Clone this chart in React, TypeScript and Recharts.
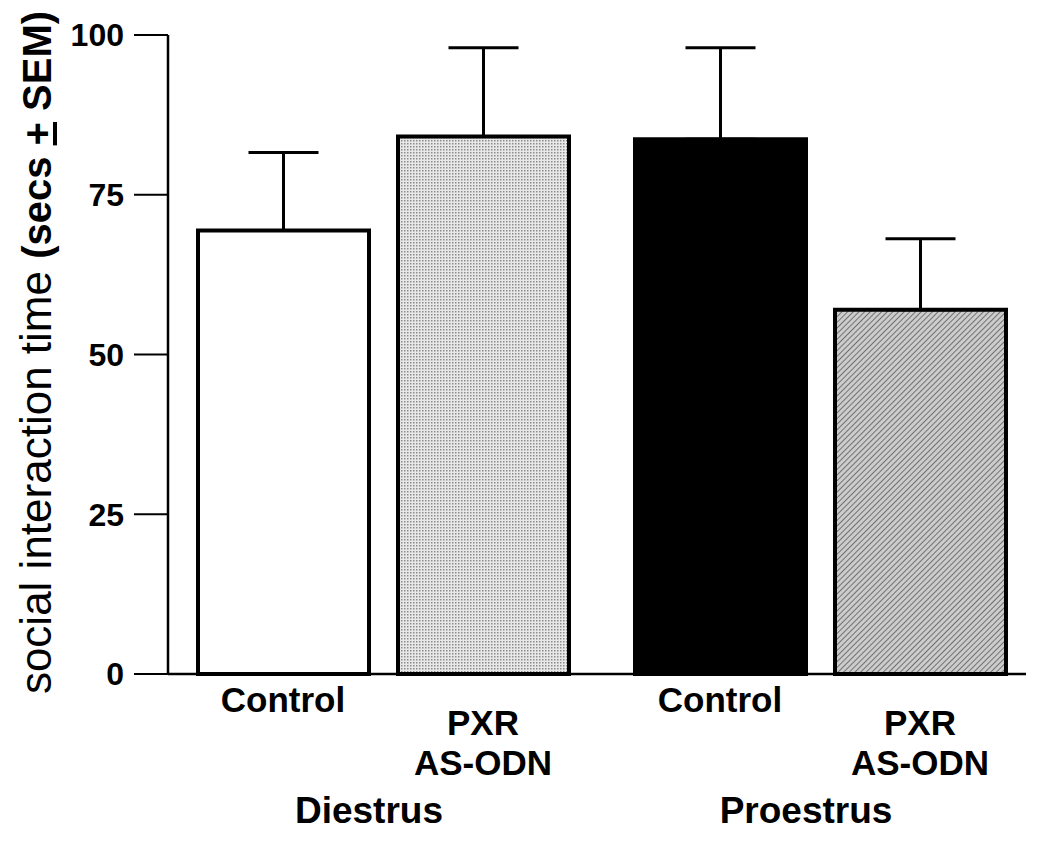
import React from "react";
import { BarChart, Bar, XAxis, YAxis, ErrorBar, Cell } from "recharts";

const phases = ["Diestrus", "Proestrus"];
const treatments = [["Control"], ["PXR", "AS-ODN"]];
const meanTime = [69.4, 84.1, 83.7, 57.0];
const semTime = [12.2, 13.9, 14.3, 11.1];
const yTicks = [0, 25, 50, 75, 100];

const barFills = ["#ffffff", "url(#dots)", "#000000", "url(#hatch)"];
const GROUP_GAP = 0.185;
const FONT = '"Liberation Sans", Arial, Helvetica, sans-serif';

const rows = meanTime.map((mean, i) => {
  const g = Math.floor(i / treatments.length);
  return {
    pos: i + g * GROUP_GAP,
    phase: phases[g],
    lines: treatments[i % treatments.length],
    mean,
    err: [0, semTime[i]],
  };
});

const groupTicks = phases.map((p) => {
  const inGroup = rows.filter((r) => r.phase === p);
  return inGroup.reduce((s, r) => s + r.pos, 0) / inGroup.length;
});

const TreatmentTick = ({ x, y, payload }: any) => {
  const row = rows.find((r) => Math.abs(r.pos - payload.value) < 1e-6);
  if (!row) return null;
  const first = row.lines.length === 1 ? 38 : 61;
  return (
    <g>
      {row.lines.map((l, k) => (
        <text
          key={k}
          x={x}
          y={y + first + k * 40}
          textAnchor="middle"
          fontFamily={FONT}
          fontWeight="bold"
          fontSize={35}
          fill="#000"
        >
          {l}
        </text>
      ))}
    </g>
  );
};

const PhaseTick = ({ x, y, payload }: any) => {
  const idx = groupTicks.findIndex((t) => Math.abs(t - payload.value) < 1e-6);
  if (idx < 0) return null;
  return (
    <text
      x={x - 14}
      y={y + 49}
      textAnchor="middle"
      fontFamily={FONT}
      fontWeight="bold"
      fontSize={37}
      fill="#000"
    >
      {phases[idx]}
    </text>
  );
};

const YLabel = ({ viewBox }: any) => {
  const x = viewBox.x + 43;
  const y = viewBox.y + viewBox.height / 2 - 2;
  return (
    <text
      x={x}
      y={y}
      transform={`rotate(-90 ${x} ${y})`}
      textAnchor="middle"
      fontFamily={FONT}
      fill="#000"
    >
      <tspan fontSize={44}>social interaction time </tspan>
      <tspan fontSize={40} fontWeight="bold">
        (secs{" "}
        <tspan style={{ textDecoration: "underline" }}>+</tspan> SEM)
      </tspan>
    </text>
  );
};

export default function App() {
  return (
    <div style={{ position: "relative" }}>
      <svg width={0} height={0} style={{ position: "absolute" }}>
        <defs>
          <pattern id="dots" width={3} height={3} patternUnits="userSpaceOnUse">
            <rect width={3} height={3} fill="#e8e8e8" />
            <rect width={1.5} height={1.5} fill="#8c8c8c" />
          </pattern>
          <pattern
            id="hatch"
            width={4}
            height={4}
            patternUnits="userSpaceOnUse"
            patternTransform="rotate(45)"
          >
            <rect width={4} height={4} fill="#cccccc" />
            <line x1={0} y1={0} x2={0} y2={4} stroke="#5a5a5a" strokeWidth={1.6} />
          </pattern>
        </defs>
      </svg>
      <BarChart
        width={1034}
        height={827}
        data={rows}
        margin={{ top: 27, right: 16, left: 0, bottom: 0 }}
      >
        <XAxis
          dataKey="pos"
          type="number"
          domain={[-0.575, 3.715]}
          ticks={rows.map((r) => r.pos)}
          interval={0}
          height={100}
          tickSize={0}
          tickMargin={0}
          tickLine={false}
          axisLine={{ stroke: "#000", strokeWidth: 2.5 }}
          tick={<TreatmentTick />}
        />
        <XAxis
          xAxisId="phase"
          dataKey="pos"
          type="number"
          domain={[-0.575, 3.715]}
          ticks={groupTicks}
          interval={0}
          height={61}
          tickSize={0}
          tickMargin={0}
          tickLine={false}
          axisLine={false}
          tick={<PhaseTick />}
        />
        <YAxis
          domain={[0, 100]}
          ticks={yTicks}
          interval={0}
          width={160}
          tickSize={34}
          tickMargin={10}
          tickLine={{ stroke: "#000", strokeWidth: 2 }}
          axisLine={{ stroke: "#000", strokeWidth: 2.5 }}
          tick={{ fill: "#000", fontSize: 32, fontWeight: "bold", fontFamily: FONT }}
          label={<YLabel />}
        />
        <Bar
          dataKey="mean"
          barSize={171}
          stroke="#000"
          strokeWidth={4}
          isAnimationActive={false}
        >
          {rows.map((r, i) => (
            <Cell key={i} fill={barFills[i]} />
          ))}
          <ErrorBar
            dataKey="err"
            direction="y"
            width={35}
            stroke="#000"
            strokeWidth={3}
            isAnimationActive={false}
          />
        </Bar>
      </BarChart>
    </div>
  );
}
